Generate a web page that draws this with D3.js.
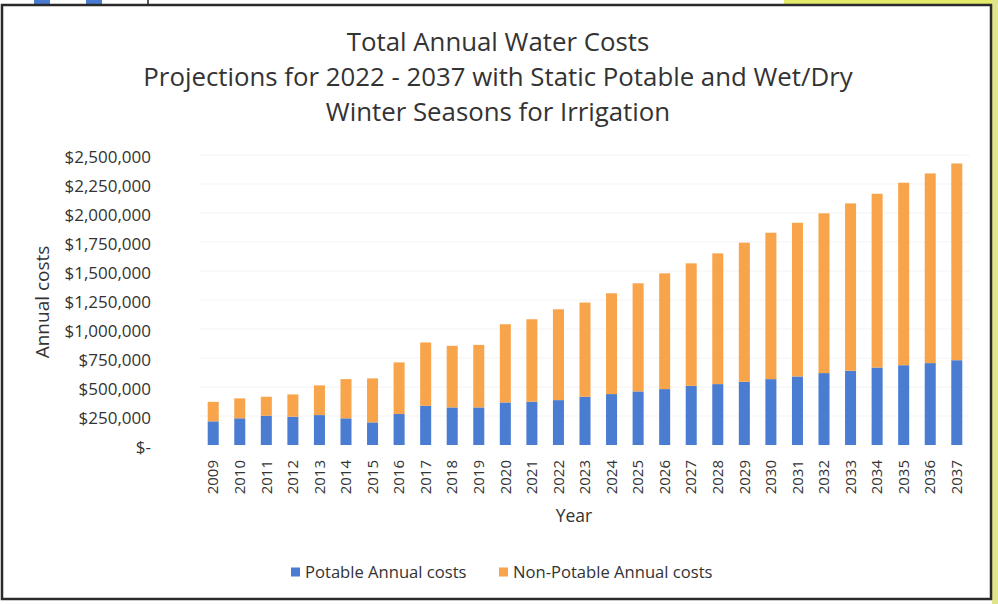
<!DOCTYPE html>
<html>
<head>
<meta charset="utf-8">
<script src="https://cdn.jsdelivr.net/npm/d3@7"></script>
<style>
  html, body { margin: 0; padding: 0; background: #ffffff; }
  svg { display: block; }
  text { font-family: "Open Sans", "DejaVu Sans", sans-serif; fill: #333; }
</style>
</head>
<body>
<svg id="chart" width="998" height="604"></svg>
<script>
// Annual water costs, split into potable and non-potable (irrigation) parts
const years = [2009, 2010, 2011, 2012, 2013, 2014, 2015, 2016, 2017, 2018,
               2019, 2020, 2021, 2022, 2023, 2024, 2025, 2026, 2027, 2028,
               2029, 2030, 2031, 2032, 2033, 2034, 2035, 2036, 2037];
const potable = [204000, 230000, 252000, 244000, 258000, 230000, 195000, 267000, 338000, 324000,
                 324000, 367000, 373000, 387000, 416000, 439000, 462000, 482000, 510000, 525000,
                 545000, 568000, 591000, 620000, 640000, 668000, 688000, 706000, 731000];
const nonPotable = [168000, 172000, 164000, 192000, 256000, 338000, 379000, 445000, 546000, 531000,
                    539000, 674000, 711000, 783000, 812000, 869000, 932000, 998000, 1056000, 1127000,
                    1199000, 1262000, 1325000, 1377000, 1443000, 1498000, 1573000, 1635000, 1696000];
const yTicks = [0, 250000, 500000, 750000, 1000000, 1250000, 1500000, 1750000, 2000000, 2250000, 2500000];
const titleLines = ["Total Annual Water Costs",
                    "Projections for 2022 - 2037 with Static Potable and Wet/Dry",
                    "Winter Seasons for Irrigation"];
const seriesNames = ["Potable Annual costs", "Non-Potable Annual costs"];
const colors = ["#4a7cd2", "#f8a44b"];

const svg = d3.select("#chart");

// surrounding page fragments and the chart frame
svg.append("rect").attr("x", 784).attr("y", 0).attr("width", 214).attr("height", 5).attr("fill", "#e6ea6a");
svg.append("rect").attr("x", 992).attr("y", 0).attr("width", 6).attr("height", 604).attr("fill", "#dfe48a");
svg.append("rect").attr("x", 34).attr("y", 0).attr("width", 16).attr("height", 5).attr("fill", "#4a7cd2");
svg.append("rect").attr("x", 86).attr("y", 0).attr("width", 16).attr("height", 5).attr("fill", "#4a7cd2");
svg.append("line").attr("x1", 148).attr("x2", 148).attr("y1", 0).attr("y2", 5).attr("stroke", "#222").attr("stroke-width", 1.5);
svg.append("rect").attr("x", 2).attr("y", 5).attr("width", 989).attr("height", 594)
  .attr("fill", "#ffffff").attr("stroke", "#2a2a2a").attr("stroke-width", 2.5);

// title
svg.append("g").selectAll("text").data(titleLines).join("text")
  .attr("x", 498).attr("y", (d, i) => 51 + i * 35)
  .attr("text-anchor", "middle")
  .attr("font-size", 25.8)
  .attr("fill", "#3a3a3a")
  .text(d => d);

const x = d3.scaleBand().domain(years).range([200, 970]).paddingInner(0.585).paddingOuter(0.29);
const y = d3.scaleLinear().domain([0, 2500000]).range([445, 155]);

// faint gridlines
svg.append("g").selectAll("line").data(yTicks.slice(1)).join("line")
  .attr("x1", 200).attr("x2", 970)
  .attr("y1", d => y(d)).attr("y2", d => y(d))
  .attr("stroke", "#f3f3f3").attr("stroke-width", 1);

// y axis
const fmt = d => d === 0 ? "$-" : "$" + d3.format(",")(d);
const yAxis = svg.append("g").attr("transform", "translate(151,2.5)")
  .call(d3.axisLeft(y).tickValues(yTicks).tickFormat(fmt).tickSize(0).tickPadding(0));
yAxis.select(".domain").remove();
yAxis.selectAll("text").attr("font-size", 17).attr("fill", "#333")
  .attr("font-family", "'Open Sans', sans-serif");

// stacked bars
const rows = years.map((yr, i) => ({ year: yr, potable: potable[i], nonPotable: nonPotable[i] }));
const stack = d3.stack().keys(["potable", "nonPotable"])(rows);
svg.append("g").selectAll("g").data(stack).join("g")
  .attr("fill", (d, i) => colors[i])
  .selectAll("rect").data(d => d).join("rect")
  .attr("x", d => x(d.data.year))
  .attr("width", x.bandwidth())
  .attr("y", d => y(d[1]))
  .attr("height", d => y(d[0]) - y(d[1]));

// x axis (rotated year labels)
const xAxis = svg.append("g").attr("transform", "translate(0,460)")
  .call(d3.axisBottom(x).tickSize(0).tickPadding(0));
xAxis.select(".domain").remove();
xAxis.selectAll("text")
  .attr("font-size", 15)
  .attr("fill", "#333")
  .attr("font-family", "'Open Sans', sans-serif")
  .attr("transform", "rotate(-90)")
  .attr("text-anchor", "end")
  .attr("dy", "0.35em")
  .attr("x", 0).attr("y", 0);

// axis titles
svg.append("text").attr("x", 574).attr("y", 522).attr("text-anchor", "middle")
  .attr("font-size", 17.5).text("Year");
svg.append("text").attr("transform", "translate(49,302) rotate(-90)").attr("text-anchor", "middle")
  .attr("font-size", 19).text("Annual costs");

// legend
const legendX = [291, 499];
const legend = svg.append("g").selectAll("g").data(seriesNames).join("g")
  .attr("transform", (d, i) => `translate(${legendX[i]},572)`);
legend.append("rect").attr("x", 0).attr("y", -4.5).attr("width", 9).attr("height", 9)
  .attr("fill", (d, i) => colors[i]);
legend.append("text").attr("x", 14).attr("y", 0).attr("dy", "0.35em")
  .attr("font-size", 16.6).text(d => d);
</script>
</body>
</html>
